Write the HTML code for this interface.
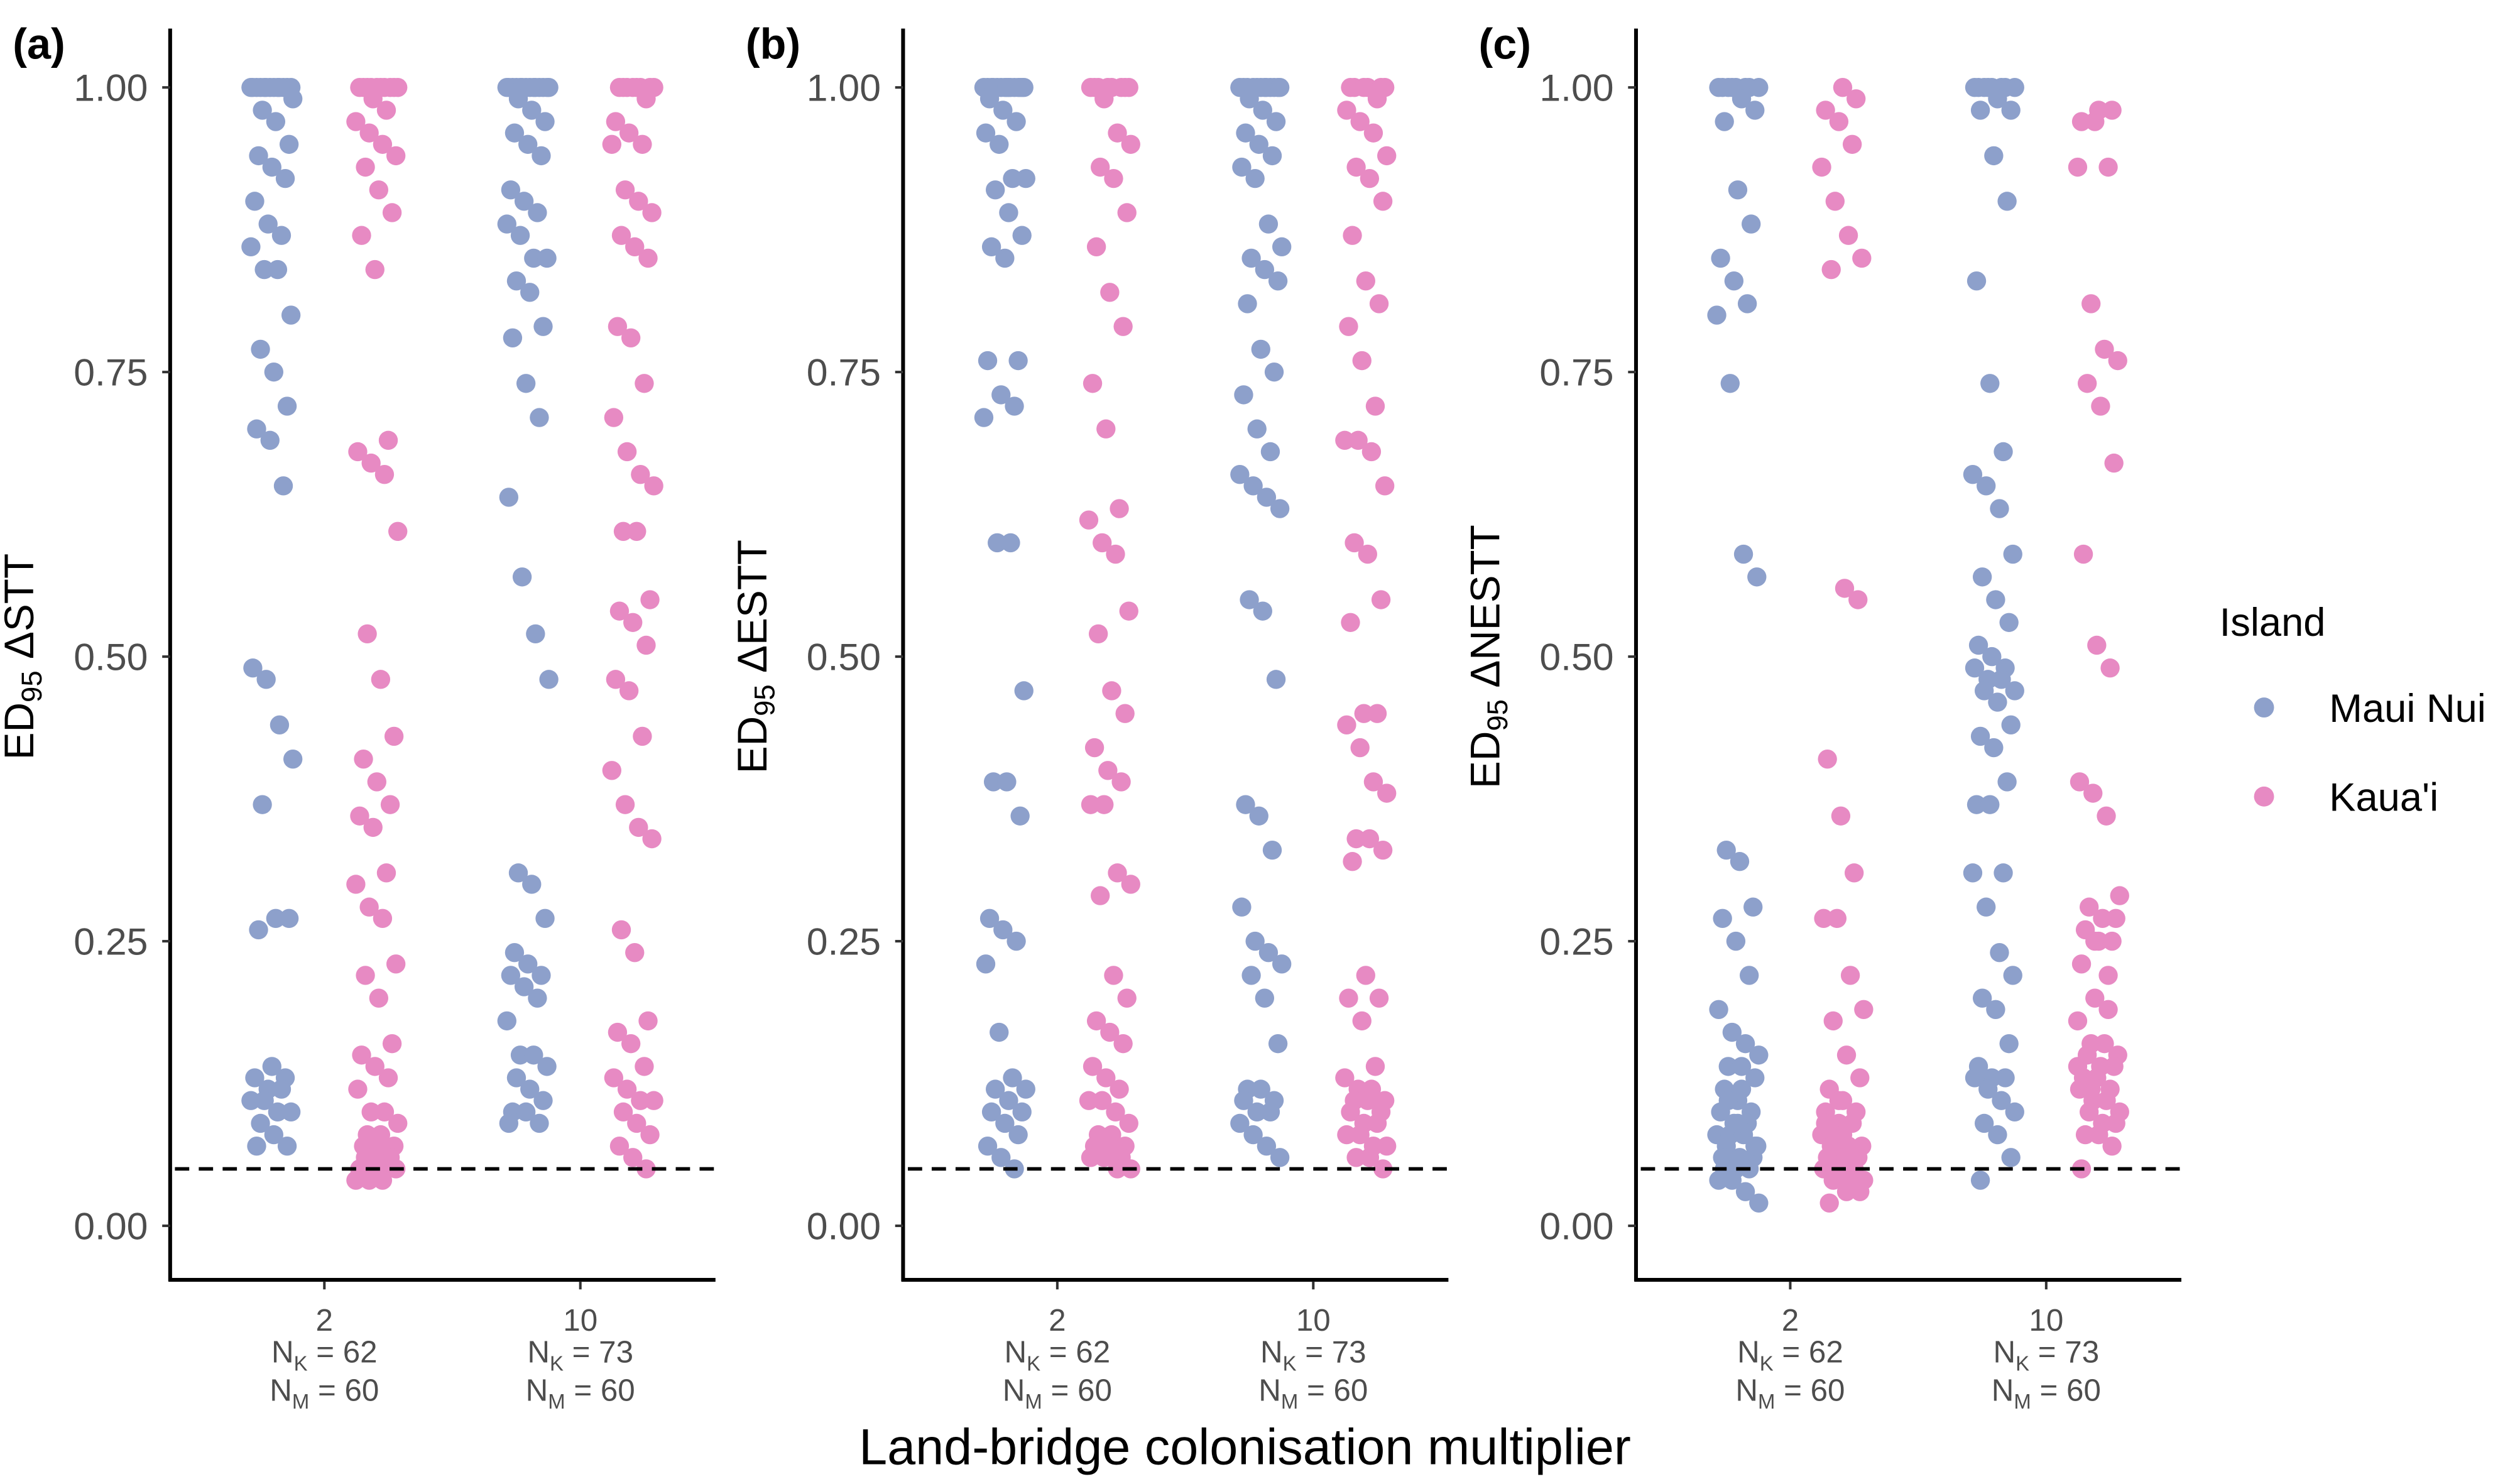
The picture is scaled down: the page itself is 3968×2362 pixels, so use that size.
<!DOCTYPE html>
<html><head><meta charset="utf-8"><style>html,body{margin:0;padding:0;background:#fff}svg{display:block}</style></head>
<body>
<svg id="chart" width="3968" height="2362" viewBox="0 0 1568 933.4" xmlns="http://www.w3.org/2000/svg" font-family="Liberation Sans, Arial, sans-serif"></svg>
<script>
const yTicks=[0,0.25,0.5,0.75,1.0];
const yTickLabels=["0.00","0.25","0.50","0.75","1.00"];
const categories=["2","10"];
const nK=["62","73"];
const nM=["60","60"];
const panelLabels=["(a)","(b)","(c)"];
const yTitles=["\u0394STT","\u0394ESTT","\u0394NESTT"];
const threshold=0.05;
const rep=(v,n)=>Array(n).fill(v);
// panel a
const a_maui_2=[...rep(1.00,13),0.99,0.98,0.97,0.95,0.94,0.93,0.92,0.90,0.88,0.87,0.86,0.84,0.84,0.80,0.77,0.75,0.72,0.70,0.69,0.65,0.49,0.48,0.44,0.41,0.37,0.27,0.27,0.26,0.14,0.13,0.13,0.12,0.12,0.11,0.11,0.10,0.10,0.09,0.08,0.07,0.07];
const a_kauai_2=[...rep(1.00,10),0.99,0.98,0.97,0.96,0.95,0.94,0.93,0.91,0.89,0.87,0.84,0.69,0.68,0.67,0.66,0.61,0.52,0.48,0.43,0.41,0.39,0.37,0.36,0.35,0.31,0.30,0.28,0.27,0.23,0.22,0.20,0.16,0.15,0.14,0.13,0.12,0.10,0.10,0.09,0.08,0.08,0.07,0.07,0.06,0.06,0.05,0.05,0.05,0.04,0.04,0.04,0.05,0.06,0.07];
const a_maui_10=[...rep(1.00,14),0.99,0.98,0.97,0.96,0.95,0.94,0.91,0.90,0.89,0.88,0.87,0.85,0.85,0.83,0.82,0.79,0.78,0.74,0.71,0.64,0.57,0.52,0.48,0.31,0.30,0.27,0.24,0.23,0.22,0.22,0.21,0.20,0.18,0.15,0.15,0.14,0.13,0.12,0.11,0.10,0.10,0.09,0.09];
const a_kauai_10=[...rep(1.00,8),0.99,0.97,0.96,0.95,0.95,0.91,0.90,0.89,0.87,0.86,0.85,0.79,0.78,0.74,0.71,0.68,0.66,0.65,0.61,0.61,0.55,0.54,0.53,0.51,0.48,0.47,0.43,0.40,0.37,0.35,0.34,0.26,0.24,0.18,0.17,0.16,0.14,0.13,0.12,0.11,0.11,0.10,0.09,0.08,0.07,0.06,0.05];
// panel b
const b_maui_2=[...rep(1.00,15),0.99,0.98,0.97,0.96,0.95,0.92,0.92,0.91,0.89,0.87,0.86,0.85,0.76,0.76,0.73,0.72,0.71,0.60,0.60,0.47,0.39,0.39,0.36,0.27,0.26,0.25,0.23,0.17,0.13,0.12,0.12,0.11,0.10,0.10,0.09,0.08,0.07,0.06,0.05];
const b_kauai_2=[...rep(1.00,8),0.99,0.96,0.95,0.93,0.92,0.89,0.86,0.82,0.79,0.74,0.70,0.63,0.62,0.60,0.59,0.54,0.52,0.47,0.45,0.42,0.40,0.39,0.37,0.37,0.31,0.30,0.29,0.22,0.20,0.18,0.17,0.16,0.14,0.13,0.12,0.11,0.11,0.10,0.09,0.08,0.08,0.07,0.07,0.07,0.06,0.06,0.06,0.05,0.05];
const b_maui_10=[...rep(1.00,12),0.99,0.98,0.97,0.96,0.95,0.94,0.93,0.92,0.88,0.86,0.85,0.84,0.83,0.81,0.77,0.75,0.73,0.70,0.68,0.66,0.65,0.64,0.63,0.55,0.54,0.48,0.37,0.36,0.33,0.28,0.25,0.24,0.23,0.22,0.20,0.16,0.12,0.12,0.11,0.11,0.10,0.10,0.09,0.08,0.07,0.06];
const b_kauai_10=[...rep(1.00,6),0.99,0.98,0.97,0.96,0.94,0.93,0.92,0.90,0.87,0.83,0.81,0.79,0.76,0.72,0.69,0.69,0.68,0.65,0.60,0.59,0.55,0.53,0.45,0.45,0.44,0.42,0.39,0.38,0.34,0.34,0.33,0.32,0.22,0.20,0.20,0.18,0.14,0.13,0.12,0.12,0.11,0.11,0.11,0.10,0.10,0.09,0.09,0.08,0.08,0.07,0.07,0.06,0.06,0.05];
// panel c
const c_maui_2=[...rep(1.00,8),0.99,0.98,0.97,0.91,0.88,0.85,0.83,0.81,0.80,0.74,0.59,0.57,0.33,0.32,0.28,0.27,0.25,0.22,0.19,0.17,0.16,0.15,0.14,0.14,0.13,0.12,0.11,0.10,0.10,0.09,0.09,0.08,0.08,0.08,0.07,0.07,0.06,0.06,0.06,0.05,0.05,0.04,0.04,0.03,0.02,0.11,0.12,0.07,0.05,0.09];
const c_kauai_2=[1.00,0.99,0.98,0.97,0.95,0.93,0.90,0.87,0.85,0.84,0.56,0.55,0.41,0.36,0.31,0.27,0.27,0.22,0.19,0.18,0.15,0.13,0.12,0.11,0.10,0.10,0.09,0.09,0.08,0.08,0.07,0.07,0.07,0.06,0.06,0.06,0.05,0.05,0.05,0.05,0.04,0.04,0.04,0.03,0.03,0.02,0.08,0.06,0.09,0.11];
const c_maui_10=[...rep(1.00,8),0.99,0.98,0.98,0.94,0.90,0.83,0.74,0.68,0.66,0.65,0.63,0.59,0.57,0.55,0.53,0.51,0.50,0.49,0.49,0.48,0.48,0.47,0.47,0.46,0.44,0.43,0.42,0.39,0.37,0.37,0.31,0.31,0.28,0.24,0.22,0.20,0.19,0.16,0.14,0.13,0.13,0.13,0.12,0.11,0.10,0.09,0.08,0.06,0.04];
const c_kauai_10=[0.98,0.98,0.97,0.97,0.93,0.93,0.81,0.77,0.76,0.74,0.72,0.67,0.59,0.51,0.49,0.39,0.38,0.36,0.29,0.28,0.27,0.27,0.26,0.25,0.25,0.23,0.20,0.19,0.18,0.16,0.16,0.15,0.15,0.14,0.14,0.13,0.13,0.12,0.12,0.11,0.11,0.10,0.10,0.09,0.09,0.08,0.08,0.07,0.05,0.25,0.22,0.14,0.12];

const panels=[[[a_maui_2,a_kauai_2],[a_maui_10,a_kauai_10]],[[b_maui_2,b_kauai_2],[b_maui_10,b_kauai_10]],[[c_maui_2,c_kauai_2],[c_maui_10,c_kauai_10]]];
const colors=["#8da0cb","#e78ac3"];
const NS="http://www.w3.org/2000/svg";
const svg=document.getElementById('chart');
function mk(tag,attrs,parent){const e=document.createElementNS(NS,tag);for(const k in attrs)e.setAttribute(k,attrs[k]);(parent||svg).appendChild(e);return e;}
const y=v=>771-v*716;
const ax0=107,axW=343,step=461;
const xCat=(p,c)=>ax0+p*step+97+c*161;

panels.forEach((pd,p)=>{
  const g=mk('g',{});
  
  
  const x0=ax0+p*step;
  pd.forEach((cat,c)=>{cat.forEach((vals,s)=>{
    vals.forEach((v,i)=>{
      const jit=(((i*7919+s*31+p*13)%23)-11)*1.2;
      const pt=mk('circle',{cx:xCat(p,c)+(s?33:-33)+jit,cy:y(v),r:6,fill:colors[s]},g);
      
      
    });
  });});
  const dl=mk('line',{x1:x0+3,x2:x0+axW,y1:y(threshold),y2:y(threshold),stroke:'#000','stroke-width':2.2,'stroke-dasharray':'9,6'},g);
  
  
  const ya=mk('line',{x1:x0,x2:x0,y1:18,y2:806,stroke:'#000','stroke-width':2.4},g);
  
  
  const xa=mk('line',{x1:x0-1,x2:x0+axW,y1:805,y2:805,stroke:'#000','stroke-width':2.4},g);
  
  
  yTicks.forEach((t,i)=>{
    const tk=mk('line',{x1:x0-5,x2:x0,y1:y(t),y2:y(t),stroke:'#333','stroke-width':1.6},g);
    
    
    const tl=mk('text',{x:x0-14,y:y(t)+8.5,'text-anchor':'end','font-size':24,fill:'#4d4d4d'},g);
    tl.textContent=yTickLabels[i];
    
    
  });
  categories.forEach((c,ci)=>{
    const cx=xCat(p,ci);
    const tk=mk('line',{x1:cx,x2:cx,y1:806,y2:811,stroke:'#333','stroke-width':1.6},g);
    
    
    const t1=mk('text',{x:cx,y:837,'text-anchor':'middle','font-size':19.5,fill:'#4d4d4d'},g);
    t1.textContent=c;
    
    
    const t2=mk('text',{x:cx,y:857,'text-anchor':'middle','font-size':19.5,fill:'#4d4d4d'},g);
    t2.innerHTML='N<tspan font-size="13" dy="5">K</tspan><tspan dy="-5"> = '+nK[ci]+'</tspan>';
    
    
    const t3=mk('text',{x:cx,y:881,'text-anchor':'middle','font-size':19.5,fill:'#4d4d4d'},g);
    t3.innerHTML='N<tspan font-size="13" dy="5">M</tspan><tspan dy="-5"> = '+nM[ci]+'</tspan>';
    
    
  });
  const yt=mk('text',{transform:`translate(${x0-86},413) rotate(-90)`,'text-anchor':'middle','font-size':26,fill:'#000'},g);
  yt.innerHTML='ED<tspan font-size="18" dy="5">95</tspan><tspan dy="-5"> '+yTitles[p]+'</tspan>';
  
  
  const pl=mk('text',{x:8+p*461,y:37,'font-size':27,'font-weight':'bold',fill:'#000'},g);
  pl.textContent=panelLabels[p];
  
  
});
const xt=mk('text',{x:783,y:921,'text-anchor':'middle','font-size':32,fill:'#000'});
xt.textContent='Land-bridge colonisation multiplier';


const lg=mk('g',{});


const lt=mk('text',{x:1396,y:400,'font-size':25,fill:'#000'},lg);
lt.textContent='Island';


["Maui Nui","Kaua'i"].forEach((n,i)=>{
  const c=mk('circle',{cx:1424,cy:445+i*56,r:6.3,fill:colors[i]},lg);
  
  
  const t=mk('text',{x:1465,y:454+i*56,'font-size':25,fill:'#000'},lg);
  t.textContent=n;
  
  
});
</script>
</body></html>
